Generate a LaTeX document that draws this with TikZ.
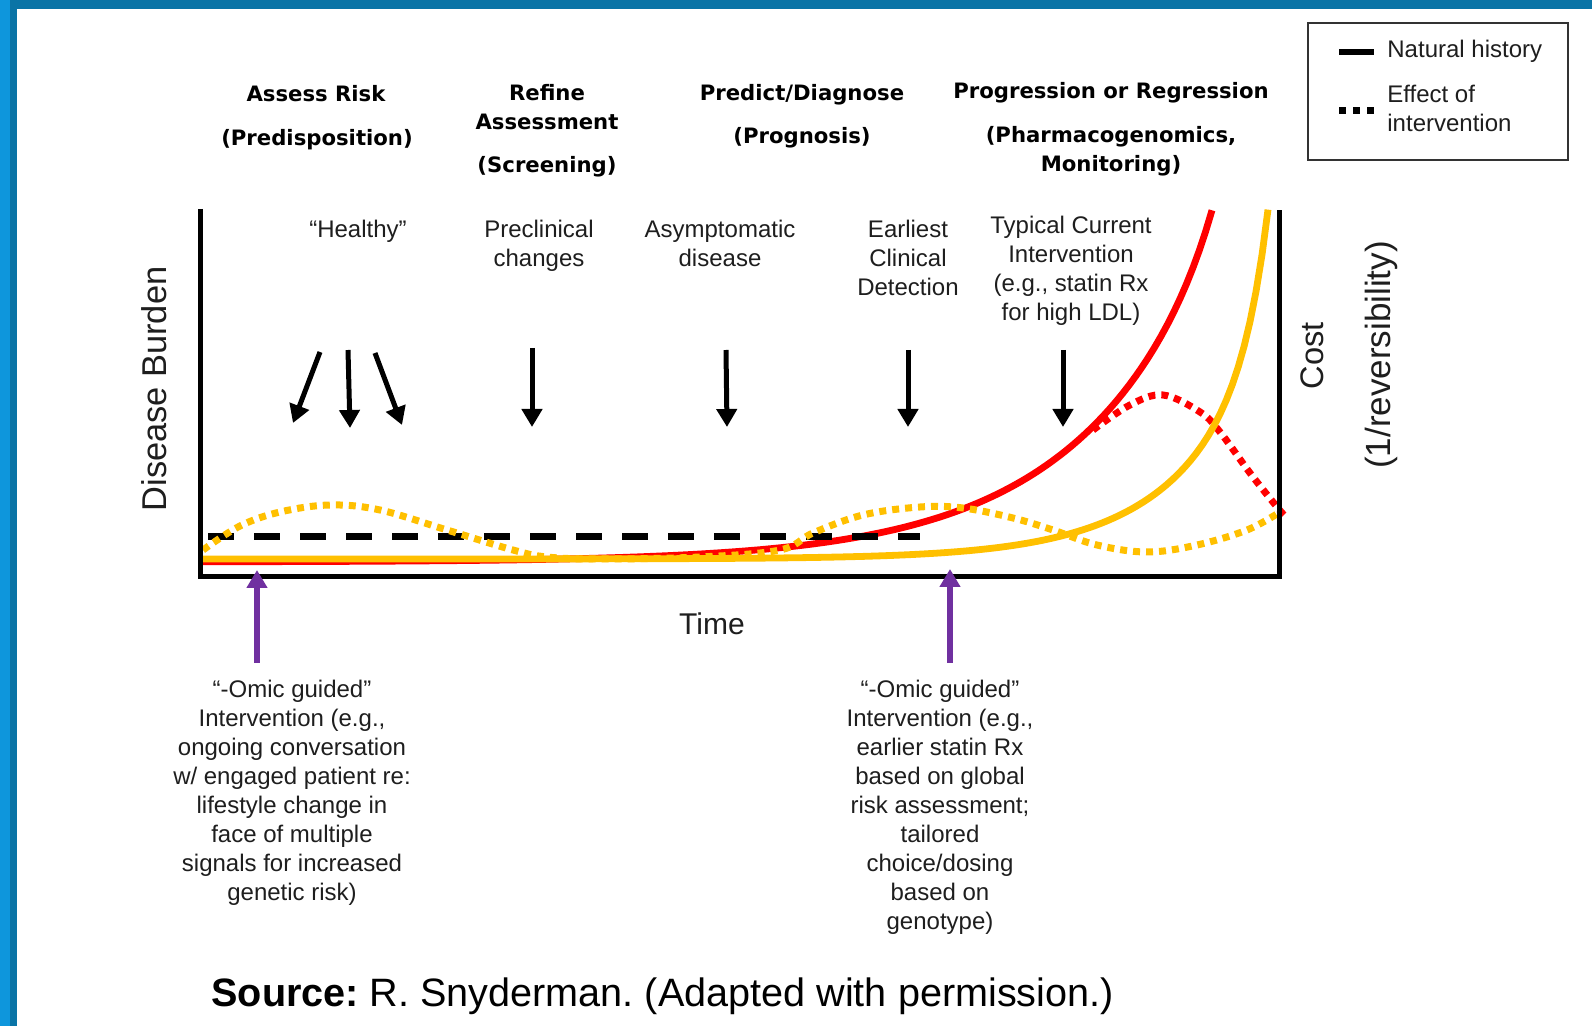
\documentclass[tikz,border=0pt]{standalone}
\usepackage{fontspec}
\setmainfont{Liberation Sans}
\newfontfamily\hdrfont{DejaVu Sans}
\usetikzlibrary{arrows.meta}
\definecolor{bluelt}{RGB}{14,150,220}
\definecolor{bluedk}{RGB}{10,116,166}
\definecolor{curvered}{RGB}{255,0,0}
\definecolor{curveyel}{RGB}{255,192,0}
\definecolor{purp}{RGB}{112,48,160}
\definecolor{txt}{RGB}{30,30,30}
\frenchspacing
\begin{document}
\begin{tikzpicture}[x=0.5pt,y=-0.5pt,
  txtnode/.style={font=\fontsize{12}{14.5}\selectfont, text=txt, align=center, anchor=north, inner sep=0pt},
  hdr/.style={font=\hdrfont\bfseries\fontsize{10.6}{14.5}\selectfont, text=black, align=center, anchor=north, inner sep=0pt},
  blkarrow/.style={line width=2.5pt, -{Triangle[width=10pt,length=9pt]}},
  purparrow/.style={draw=purp, line width=3pt, -{Triangle[width=10pt,length=9pt]}, color=purp},
  solidcurve/.style={line width=3.4pt, line join=round},
  sqdots/.style={line width=3.5pt, dash pattern=on 3.5pt off 3pt},
  axisline/.style={line width=2.5pt, line join=miter}
]
\useasboundingbox (0,0) rectangle (1592,1026);
\fill[white] (0,0) rectangle (1592,1026);
% blue frame
\fill[bluedk] (0,0) rectangle (1592,9);
\fill[bluelt] (0,0) rectangle (10,1026);
\fill[bluedk] (10,9) rectangle (17,1026);

% headers
\node[hdr] (hA1) at (316,84.5) {Assess Risk};
\node[hdr] (hA2) at (317,129) {(Predisposition)};
\node[hdr] (hB1) at (547,83.5) {Refine\\Assessment};
\node[hdr] (hB2) at (547,155.5) {(Screening)};
\node[hdr] (hC1) at (802,83.5) {Predict/Diagnose};
\node[hdr] (hC2) at (802,127) {(Prognosis)};
\node[hdr] (hD1) at (1111,81.5) {Progression or Regression};
\node[hdr] (hD2) at (1111,126) {(Pharmacogenomics,\\Monitoring)};

% legend
\draw[line width=1pt, draw=black!80] (1308,23) rectangle (1568,160);
\coordinate (lg1a) at (1339,52);
\coordinate (lg1b) at (1374,52);
\coordinate (lg2a) at (1339,111);
\coordinate (lg2b) at (1374,111);
\draw[line width=3pt] (lg1a) -- (lg1b);
\draw[line width=3.5pt, dash pattern=on 3.5pt off 3.5pt] (lg2a) -- (lg2b);
\node[txtnode, anchor=north west] (lgt1) at (1387,40) {Natural history};
\node[txtnode, anchor=north west, align=left] (lgt2) at (1387,84.5) {Effect of\\intervention};

% stage labels
\node[txtnode] (sH) at (358,219.5) {“Healthy”};
\node[txtnode] (sP) at (539,219.5) {Preclinical\\changes};
\node[txtnode] (sA) at (720,219.5) {Asymptomatic\\disease};
\node[txtnode] (sE) at (908,219.5) {Earliest\\Clinical\\Detection};
\node[txtnode] (sT) at (1071,215.5) {Typical Current\\Intervention\\(e.g., statin Rx\\for high LDL)};

% black arrows
\coordinate (a1s) at (320,352); \coordinate (a1e) at (293,423);
\coordinate (a2s) at (348,350); \coordinate (a2e) at (350,428);
\coordinate (a3s) at (375,353); \coordinate (a3e) at (402,425);
\coordinate (a4s) at (532,348); \coordinate (a4e) at (532,427);
\coordinate (a5s) at (726,350); \coordinate (a5e) at (727,427);
\coordinate (a6s) at (908,350); \coordinate (a6e) at (908,427);
\coordinate (a7s) at (1063,350); \coordinate (a7e) at (1063,427);
\draw[blkarrow] (a1s) -- (a1e);
\draw[blkarrow] (a2s) -- (a2e);
\draw[blkarrow] (a3s) -- (a3e);
\draw[blkarrow] (a4s) -- (a4e);
\draw[blkarrow] (a5s) -- (a5e);
\draw[blkarrow] (a6s) -- (a6e);
\draw[blkarrow] (a7s) -- (a7e);

% curves
\draw[curvered, sqdots] plot[smooth, tension=0.6] coordinates {(1093,430) (1130,405) (1163,395) (1200,412) (1220,432) (1250,473) (1277,507) (1284,515)};
\draw[curvered, solidcurve] plot[domain=201:1212, samples=160] (\x, {562 - 317.7*exp(max(-9,0.00719*(\x-1212))) - 34*exp(max(-9,0.036*(\x-1212)))});
\draw[curveyel, solidcurve] plot[domain=201:1268, samples=180] (\x, {559 - 59*exp(max(-9,0.011*(\x-1147))) - 126*exp(max(-9,0.047*(\x-1268)))});
\draw[line width=3.5pt, dash pattern=on 13pt off 10pt] (208,537) -- (920,537);
\draw[curveyel, sqdots] plot[smooth, tension=0.6] coordinates {(203,550) (240,526) (280,512) (330,505) (380,510) (447,530) (513,550) (547,557) (600,559) (700,557) (780,550) (813,533) (863,515) (920,507) (963,508) (1013,518) (1053,530) (1097,545) (1147,552) (1197,545) (1247,530) (1280,512)};

% axes
\draw[axisline] (200,209) -- (200,577) -- (1279,577) -- (1279,210);

% axis labels
\node[rotate=90, font=\fontsize{17.2}{20}\selectfont, text=txt] (yl) at (154,389) {Disease Burden};
\node[font=\fontsize{15}{18}\selectfont, text=txt] (xl) at (712,623.5) {Time};
\node[rotate=90, font=\fontsize{16.3}{20}\selectfont, text=txt] (cl) at (1312,356) {Cost};
\node[rotate=90, font=\fontsize{17.5}{20}\selectfont, text=txt] (rl) at (1381,355) {(1/reversibility)};

% purple arrows
\coordinate (p1s) at (257,663); \coordinate (p1e) at (257,570);
\coordinate (p2s) at (950,663); \coordinate (p2e) at (950,569);
\draw[purparrow] (p1s) -- (p1e);
\draw[purparrow] (p2s) -- (p2e);

% bottom texts
\node[txtnode] (bL) at (292,680) {“-Omic guided”\\Intervention (e.g.,\\ongoing conversation\\w/ engaged patient re:\\lifestyle change in\\face of multiple\\signals for increased\\genetic risk)};
\node[txtnode] (bR) at (940,680) {“-Omic guided”\\Intervention (e.g.,\\earlier statin Rx\\based on global\\risk assessment;\\tailored\\choice/dosing\\based on\\genotype)};

% source
\node[anchor=base west, inner sep=0pt, font=\fontsize{19.8}{24}\selectfont, text=black] (src) at (211,1006) {\textbf{Source:}~R. Snyderman. (Adapted with permission.)};
\end{tikzpicture}
\end{document}
